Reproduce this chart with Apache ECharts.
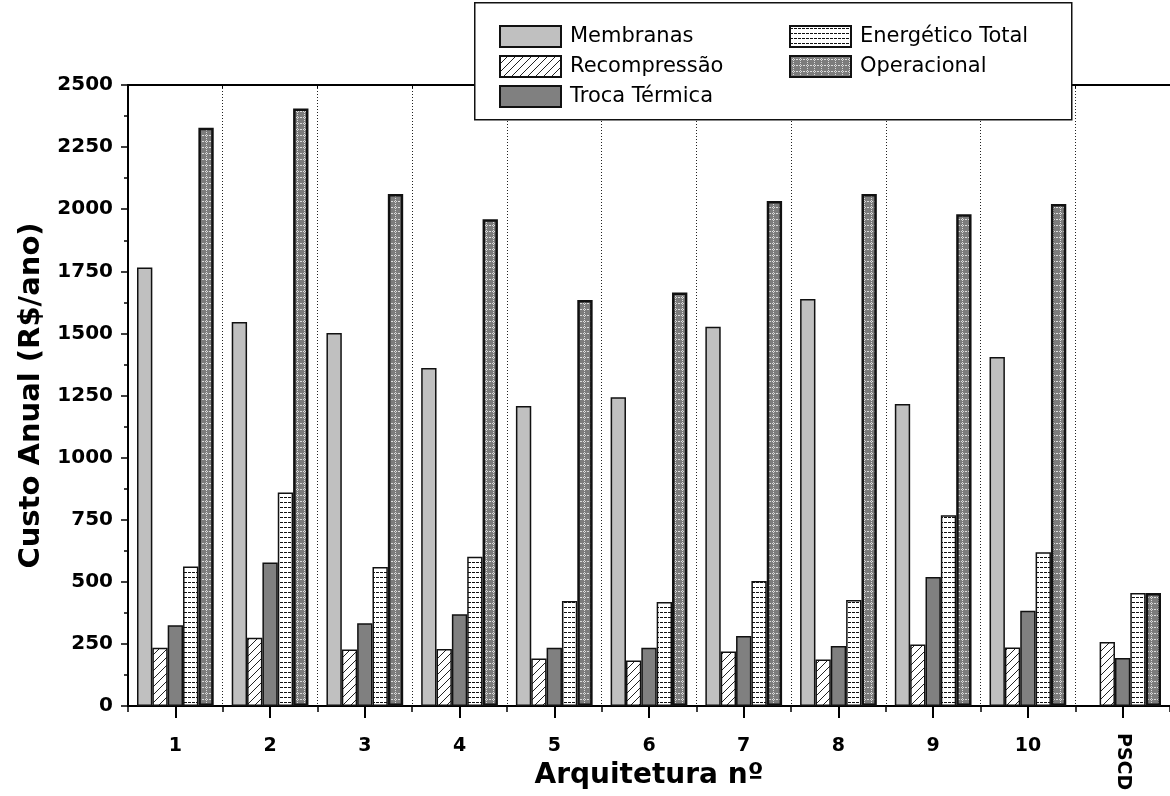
<!DOCTYPE html>
<html>
<head>
<meta charset="utf-8">
<script src="https://cdn.jsdelivr.net/npm/echarts@6/dist/echarts.min.js"></script>
<style>
  html, body { margin: 0; padding: 0; background: #fff; }
  #chart { width: 1170px; height: 796px; }
</style>
</head>
<body>
<div id="chart"></div>
<script>
// Annual cost per architecture (R$/ano)
const categories = ['1', '2', '3', '4', '5', '6', '7', '8', '9', '10', 'PSCD'];
const membranas = [1765, 1546, 1502, 1361, 1208, 1243, 1527, 1638, 1216, 1405, null];
const recompressao = [235, 275, 227, 229, 191, 183, 219, 187, 248, 236, 258];
const trocaTermica = [325, 578, 333, 369, 234, 234, 282, 242, 519, 383, 193];
const energeticoTotal = [562, 860, 560, 601, 423, 419, 503, 427, 768, 619, 455];
const operacional = [2328, 2405, 2061, 1960, 1634, 1665, 2033, 2061, 1980, 2021, 455];
const yTicks = { min: 0, max: 2500, step: 250 };

const FONT = 'DejaVu Sans';

// Small repeating tiles used as bar fills
function tile(w, h, draw) {
  const c = document.createElement('canvas');
  c.width = w; c.height = h;
  const ctx = c.getContext('2d');
  draw(ctx, w, h);
  return { image: c, repeat: 'repeat' };
}
const hatchFill = tile(8, 8, (ctx, w, h) => {
  ctx.fillStyle = '#fff'; ctx.fillRect(0, 0, w, h);
  ctx.strokeStyle = '#222'; ctx.lineWidth = 1;
  ctx.beginPath();
  ctx.moveTo(-1, h + 1); ctx.lineTo(w + 1, -1);
  ctx.moveTo(-1, 1); ctx.lineTo(1, -1);
  ctx.moveTo(w - 1, h + 1); ctx.lineTo(w + 1, h - 1);
  ctx.stroke();
});
const stripeFill = tile(4, 5, (ctx, w, h) => {
  ctx.fillStyle = '#fff'; ctx.fillRect(0, 0, w, h);
  ctx.fillStyle = '#111'; ctx.fillRect(0, 2, 3, 1);
});
const gridFill = tile(7, 6, (ctx, w, h) => {
  ctx.fillStyle = '#7c7c7c'; ctx.fillRect(0, 0, w, h);
  ctx.fillStyle = '#dcdcdc';
  for (let y = 0; y < h; y += 2) ctx.fillRect(3, y, 1, 1);
  for (let x = 0; x < w; x += 2) ctx.fillRect(x, 3, 1, 1);
});

function barSeries(name, data, fill, border) {
  return {
    name, type: 'bar', data,
    xAxisIndex: 0,
    barGap: '0%', barCategoryGap: '19%',
    itemStyle: { color: fill, borderColor: '#111', borderWidth: border },
    emphasis: { disabled: true }
  };
}

const chart = echarts.init(document.getElementById('chart'), null, { renderer: 'canvas' });

const legendCommon = {
  orient: 'vertical',
  itemWidth: 61, itemHeight: 21, itemGap: 7,
  icon: 'rect',
  selectedMode: false,
  z: 12,
  textStyle: { fontFamily: FONT, fontSize: 21, color: '#000', padding: [0, 0, 0, 4] }
};

chart.setOption({
  animation: false,
  backgroundColor: '#fff',
  grid: { left: 128, right: 0, top: 85, bottom: 90, containLabel: false },
  legend: [
    Object.assign({}, legendCommon, { left: 494, top: 20, data: ['Membranas', 'Recompressão', 'Troca Térmica'] }),
    Object.assign({}, legendCommon, { left: 784, top: 20, data: ['Energético Total', 'Operacional'] })
  ],
  graphic: [{
    type: 'rect', z: 11, left: 474, top: 2,
    shape: { width: 597, height: 117 },
    style: { fill: '#fff', stroke: '#111', lineWidth: 1.5 }
  }],
  xAxis: [
    {
      type: 'category', data: categories, position: 'bottom',
      name: 'Arquitetura nº', nameLocation: 'middle', nameGap: 56,
      nameTextStyle: { fontFamily: FONT, fontWeight: 'bold', fontSize: 28, color: '#000' },
      axisLine: { show: true, lineStyle: { color: '#000', width: 2 } },
      axisTick: { show: true, interval: 0, alignWithLabel: true, length: 12, lineStyle: { color: '#000', width: 2 } },
      axisLabel: {
        interval: 0, margin: 31, fontFamily: FONT, fontWeight: 'bold', fontSize: 19, color: '#000',
        formatter: v => (v === 'PSCD' ? '' : v)
      },
      splitLine: { show: false }
    },
    {
      type: 'category', data: categories, position: 'bottom',
      axisLine: { show: false },
      axisTick: { show: true, interval: 0, length: 6, lineStyle: { color: '#000', width: 1.5 } },
      axisLabel: {
        interval: 0, rotate: -90, margin: 27, fontFamily: FONT, fontWeight: 'bold', fontSize: 19, color: '#000',
        formatter: v => (v === 'PSCD' ? v : '')
      },
      splitLine: { show: true, interval: 0, lineStyle: { color: '#222', type: [1, 2], width: 1 } }
    },
    {
      type: 'category', data: categories, position: 'top',
      axisLine: { show: true, lineStyle: { color: '#000', width: 2 } },
      axisTick: { show: true, interval: 0, inside: true, length: 3, lineStyle: { color: '#000', width: 1 } },
      axisLabel: { show: false },
      splitLine: { show: false }
    }
  ],
  yAxis: {
    type: 'value', min: yTicks.min, max: yTicks.max, interval: yTicks.step,
    name: 'Custo Anual (R$/ano)', nameLocation: 'middle', nameGap: 82,
    nameTextStyle: { fontFamily: FONT, fontWeight: 'bold', fontSize: 29, color: '#000' },
    axisLine: { show: true, lineStyle: { color: '#000', width: 2 } },
    axisTick: { show: true, length: 7, lineStyle: { color: '#000', width: 1.5 } },
    minorTick: { show: true, splitNumber: 2, length: 4, lineStyle: { color: '#000', width: 1.5 } },
    axisLabel: {
      margin: 15, fontFamily: FONT, fontWeight: 'bold', fontSize: 20, color: '#000',
      formatter: v => String(v)
    },
    splitLine: { show: false }
  },
  series: [
    barSeries('Membranas', membranas, '#c0c0c0', 1.5),
    barSeries('Recompressão', recompressao, hatchFill, 1.5),
    barSeries('Troca Térmica', trocaTermica, '#808080', 1.5),
    barSeries('Energético Total', energeticoTotal, stripeFill, 1.5),
    barSeries('Operacional', operacional, gridFill, 2.5)
  ]
});
</script>
</body>
</html>
